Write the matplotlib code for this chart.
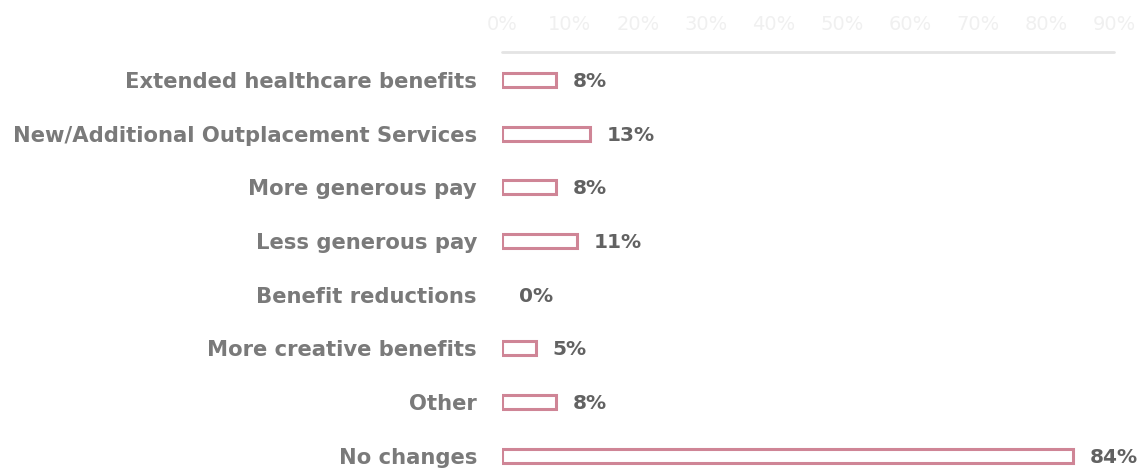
import matplotlib
matplotlib.use("Agg")
import matplotlib.pyplot as plt
from matplotlib.ticker import FuncFormatter

categories = [
    "Extended healthcare benefits",
    "New/Additional Outplacement Services",
    "More generous pay",
    "Less generous pay",
    "Benefit reductions",
    "More creative benefits",
    "Other",
    "No changes",
]
values = [8, 13, 8, 11, 0, 5, 8, 84]
x_ticks = [0, 10, 20, 30, 40, 50, 60, 70, 80, 90]

plt.rcParams["font.family"] = ["DejaVu Sans"]

W, H = 1144, 472
fig = plt.figure(figsize=(W / 100, H / 100), dpi=100)
ax = fig.add_axes([502 / W, 0, 612 / W, 420 / H])

y = list(range(len(categories)))
shown = [(yi, v) for yi, v in zip(y, values) if v > 0]
ax.barh([s[0] for s in shown], [s[1] for s in shown], height=0.26,
        color="white", edgecolor="#cf8596", linewidth=2.2)

for yi, v in zip(y, values):
    ax.annotate(f"{v}%", xy=(v, yi), xytext=(12, -1), textcoords="offset points",
                ha="left", va="center", fontsize=14.5, fontweight="bold", color="#626262")

ax.set_xlim(0, 90)
ax.set_ylim(7.3, -0.52)
ax.set_yticks(y)
ax.set_yticklabels(categories, fontsize=15.2, fontweight="bold", color="#7a7a7a")
ax.tick_params(axis="y", length=0, pad=18)

ax.xaxis.tick_top()
ax.set_xticks(x_ticks)
ax.xaxis.set_major_formatter(FuncFormatter(lambda v, p: f"{int(v)}%"))
ax.tick_params(axis="x", length=0, pad=13, labelsize=14, labelcolor="#f0f0f0")

for side in ["left", "right", "bottom"]:
    ax.spines[side].set_visible(False)
ax.spines["top"].set_color("#e4e4e4")
ax.spines["top"].set_linewidth(2)
ax.spines["top"].set_capstyle("round")

fig.savefig("out.png", dpi=100, facecolor="white")
